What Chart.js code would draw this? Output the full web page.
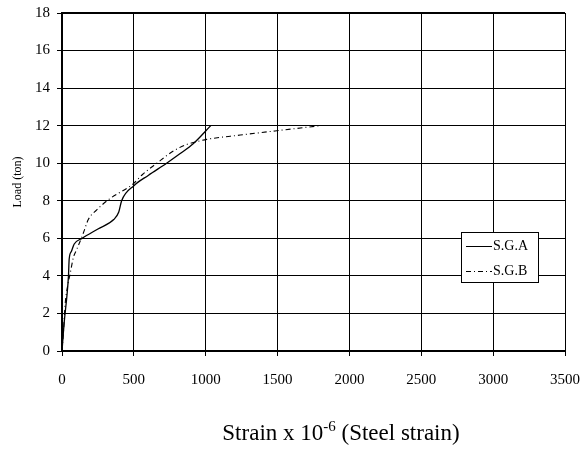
<!DOCTYPE html>
<html>
<head>
<meta charset="utf-8">
<script src="https://cdn.jsdelivr.net/npm/chart.js@4/dist/chart.umd.min.js"></script>
<style>
  html, body { margin: 0; padding: 0; background: #fff; }
  #wrap { width: 582px; height: 457px; }
</style>
</head>
<body>
<div id="wrap"><canvas id="strainChart" width="582" height="457"></canvas></div>
<script>
// Load vs. steel strain, two strain gauges
const sgaStrain = [0, 15, 35, 45, 50, 65, 85, 140, 250, 360, 395, 415, 500, 600, 728, 820, 915, 1035];
const sgaLoad   = [0, 1.5, 3, 4, 4.9, 5.3, 5.7, 6.0, 6.5, 7.0, 7.4, 8.0, 8.8, 9.35, 10.0, 10.5, 11.05, 12];

const sgbStrain = [0, 10, 22, 40, 55, 80, 102, 148, 183, 240, 320, 500, 560, 660, 775, 868, 940, 1007, 1240, 1494, 1800];
const sgbLoad   = [0, 1, 2.5, 3.5, 4.05, 5, 5.4, 6.27, 7.0, 7.5, 8.04, 8.93, 9.4, 10.0, 10.65, 11.0, 11.15, 11.27, 11.5, 11.73, 12];

const seriesNames = ['S.G.A', 'S.G.B'];
const xTicks = [0, 500, 1000, 1500, 2000, 2500, 3000, 3500];
const yTicks = [0, 2, 4, 6, 8, 10, 12, 14, 16, 18];

const SERIF = '"Liberation Serif", "Times New Roman", serif';
const sgbDash = [5, 3, 1, 3];

function toPoints(xs, ys) {
    return xs.map((x, i) => ({ x: x, y: ys[i] }));
}

// frame top line, legend box and the x-axis title with superscript
const extras = {
    id: 'extras',
    afterDraw(chart) {
        const ctx = chart.ctx;
        const a = chart.chartArea;
        ctx.save();

        // top border
        ctx.strokeStyle = '#000';
        ctx.lineWidth = 2;
        ctx.beginPath();
        ctx.moveTo(a.left - 1, a.top);
        ctx.lineTo(a.right, a.top);
        ctx.stroke();

        // legend
        const bx = 461, by = 232, bw = 77, bh = 50;
        ctx.fillStyle = '#fff';
        ctx.fillRect(bx, by, bw, bh);
        ctx.lineWidth = 1;
        ctx.strokeRect(bx + 0.5, by + 0.5, bw, bh);
        ctx.font = '14px ' + SERIF;
        ctx.textBaseline = 'middle';
        ctx.fillStyle = '#000';
        const rows = [by + 14, by + 39];
        rows.forEach((ry, i) => {
            ctx.setLineDash(i === 1 ? sgbDash : []);
            ctx.beginPath();
            ctx.moveTo(466, ry + 0.5);
            ctx.lineTo(492, ry + 0.5);
            ctx.stroke();
            ctx.setLineDash([]);
            ctx.fillText(seriesNames[i], 493, ry);
        });

        // x title
        const big = '23px ' + SERIF, small = '15px ' + SERIF;
        ctx.textBaseline = 'alphabetic';
        const p1 = 'Strain x 10', sup = '-6', p2 = ' (Steel strain)';
        ctx.font = big;
        const w1 = ctx.measureText(p1).width;
        const w3 = ctx.measureText(p2).width;
        ctx.font = small;
        const w2 = ctx.measureText(sup).width;
        let x = 341 - (w1 + w2 + w3) / 2;
        const base = 440;
        ctx.font = big;
        ctx.fillText(p1, x, base);
        x += w1;
        ctx.font = small;
        ctx.fillText(sup, x, base - 9);
        x += w2;
        ctx.font = big;
        ctx.fillText(p2, x, base);

        ctx.restore();
    }
};

const ctx = document.getElementById('strainChart').getContext('2d');

new Chart(ctx, {
    type: 'scatter',
    data: {
        datasets: [
            {
                label: seriesNames[0],
                data: toPoints(sgaStrain, sgaLoad),
                showLine: true,
                borderColor: '#000',
                borderWidth: 1.3,
                pointRadius: 0,
                cubicInterpolationMode: 'monotone'
            },
            {
                label: seriesNames[1],
                data: toPoints(sgbStrain, sgbLoad),
                showLine: true,
                borderColor: '#000',
                borderWidth: 1.1,
                borderDash: sgbDash,
                pointRadius: 0,
                cubicInterpolationMode: 'monotone'
            }
        ]
    },
    options: {
        responsive: false,
        animation: false,
        events: [],
        layout: { padding: { top: 13, right: 17, bottom: 61, left: 0 } },
        plugins: {
            legend: { display: false },
            tooltip: { enabled: false }
        },
        scales: {
            x: {
                type: 'linear',
                min: 0,
                max: 3500,
                afterBuildTicks: (scale) => { scale.ticks = xTicks.map(v => ({ value: v })); },
                afterFit: (scale) => {
                    scale.height = 45;
                    scale.paddingLeft = 0;
                    scale.paddingRight = 0;
                },
                grid: { color: '#000', lineWidth: 1, tickLength: 5, tickColor: '#000' },
                border: { display: true, color: '#000', width: 2 },
                ticks: {
                    color: '#000',
                    padding: 15,
                    maxRotation: 0,
                    font: { family: SERIF, size: 15 },
                    callback: (v) => String(v)
                }
            },
            y: {
                type: 'linear',
                min: 0,
                max: 18,
                afterBuildTicks: (scale) => { scale.ticks = yTicks.map(v => ({ value: v })); },
                afterFit: (scale) => {
                    scale.width = 62;
                    scale.paddingTop = 0;
                    scale.paddingBottom = 0;
                },
                grid: { color: '#000', lineWidth: 1, tickLength: 5, tickColor: '#000' },
                border: { display: true, color: '#000', width: 2 },
                title: {
                    display: true,
                    text: 'Load (ton)',
                    color: '#000',
                    font: { family: SERIF, size: 12 },
                    padding: { top: 11, bottom: 0 }
                },
                ticks: {
                    color: '#000',
                    padding: 7,
                    font: { family: SERIF, size: 15 },
                    callback: (v) => String(v)
                }
            }
        }
    },
    plugins: [extras]
});
</script>
</body>
</html>
